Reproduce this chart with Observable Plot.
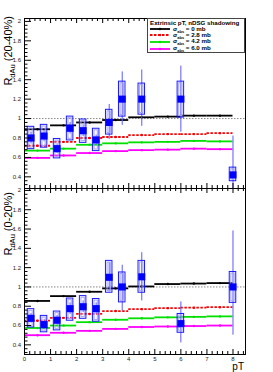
<!DOCTYPE html>
<html><head><meta charset="utf-8">
<script src="https://cdn.jsdelivr.net/npm/d3@7"></script>
<script src="https://cdn.jsdelivr.net/npm/@observablehq/plot@0.6"></script>
<style>
body{margin:0;background:#fff;}
#wrap{position:relative;width:273px;height:372px;font-family:"Liberation Sans",Arial,sans-serif;overflow:hidden;background:#fff;}
#wrap svg{position:absolute;left:0;}
.ytitle{position:absolute;left:2px;width:110px;text-align:right;font-size:11px;line-height:13px;white-space:nowrap;transform-origin:0 0;transform:rotate(-90deg);color:#000;}
.ytitle sub{font-size:7.5px;vertical-align:-2.5px;}
#xtitle{position:absolute;right:29px;top:362px;font-size:10px;line-height:9px;color:#000;}
#legend{position:absolute;left:147px;top:18px;width:98px;height:35px;box-sizing:border-box;border:1px solid #444;background:#fff;font-weight:bold;color:#000;}
#legend .lt{position:absolute;left:2px;top:0.8px;font-size:6.2px;line-height:6px;white-space:nowrap;}
#legend .le{position:absolute;left:2px;height:6px;line-height:6px;font-size:6.2px;white-space:nowrap;display:flex;align-items:center;}
#legend .le svg{position:static;margin-right:3px;}
#legend sub{font-size:4px;line-height:4px;vertical-align:-1.5px;}
</style></head>
<body>
<div id="wrap">
  <div id="ptop"></div>
  <div id="pbot"></div>
  <div class="ytitle" style="top:126px">R<sub>dAu</sub> (20-40%)</div>
  <div class="ytitle" style="top:302px">R<sub>dAu</sub> (0-20%)</div>
  <div id="xtitle">pT</div>
  <div id="legend"></div>
</div>
<script>
// ---- data ----
const pT = [0.25, 0.75, 1.25, 1.75, 2.25, 2.75, 3.25, 3.75, 4.5, 6, 8];

// 20-40% centrality
const val2040    = [0.80, 0.82, 0.69, 0.90, 0.875, 0.78, 0.96, 1.20, 1.20, 1.20, 0.42];
const statLo2040 = [0.74, 0.76, 0.64, 0.84, 0.815, 0.73, 0.785, 0.93, 0.92, 0.86, 0.02];
const statHi2040 = [0.86, 0.88, 0.74, 0.96, 0.935, 0.83, 1.145, 1.48, 1.50, 1.54, 0.82];
const sysLo2040  = [0.685, 0.70, 0.59, 0.775, 0.75, 0.665, 0.835, 1.02, 1.04, 1.01, 0.355];
const sysHi2040  = [0.915, 0.935, 0.79, 1.02, 0.99, 0.895, 1.09, 1.38, 1.36, 1.38, 0.495];

// 0-20% centrality
const val020    = [0.675, 0.61, 0.655, 0.775, 0.795, 0.775, 1.10, 1.00, 1.105, 0.62, 1.00];
const statLo020 = [0.625, 0.56, 0.605, 0.715, 0.735, 0.715, 0.95, 0.75, 0.855, 0.42, 0.50];
const statHi020 = [0.725, 0.66, 0.705, 0.835, 0.855, 0.835, 1.25, 1.225, 1.355, 0.845, 1.58];
const sysLo020  = [0.58, 0.53, 0.55, 0.65, 0.67, 0.64, 0.94, 0.84, 0.94, 0.525, 0.835];
const sysHi020  = [0.77, 0.70, 0.745, 0.88, 0.905, 0.875, 1.27, 1.15, 1.27, 0.72, 1.155];

// model bins (pT)
const binLo = [0, 1, 2, 3, 4, 5, 6, 7];
const binHi = [1, 2, 3, 4, 5, 6, 7, 8];

// model curves, 20-40%
const m0_2040  = [0.89, 0.93, 0.96, 0.985, 1.013, 1.02, 1.03, 1.03];
const m28_2040 = [0.72, 0.76, 0.80, 0.81, 0.83, 0.84, 0.84, 0.85];
const m42_2040 = [0.67, 0.69, 0.73, 0.745, 0.755, 0.76, 0.77, 0.765];
const m60_2040 = [0.595, 0.62, 0.645, 0.665, 0.675, 0.68, 0.69, 0.685];
// model curves, 0-20%
const m0_020  = [0.855, 0.905, 0.95, 0.985, 1.005, 1.03, 1.035, 1.04];
const m28_020 = [0.65, 0.68, 0.72, 0.75, 0.77, 0.78, 0.785, 0.79];
const m42_020 = [0.575, 0.60, 0.635, 0.66, 0.675, 0.685, 0.69, 0.695];
const m60_020 = [0.50, 0.525, 0.545, 0.565, 0.585, 0.59, 0.595, 0.60];

const sigmaLabels = ["0", "2.8", "4.2", "6.0"];
const legendTitle = "Extrinsic pT, nDSG shadowing";
const xTickLabels = [0, 1, 2, 3, 4, 5, 6, 7, 8];
const yTickLabels = [0.4, 0.6, 0.8, 1, 1.2, 1.4, 1.6, 1.8, 2];

// ---- styles ----
const modelColors = ["#000000", "#ff0000", "#00e000", "#ff00ff"];
const modelDash = [null, "2.5,1.5", null, null];
const xDomain = [0, 8.48];
const xMinor = d3.range(0, 43).map(i => +(i * 0.2).toFixed(2)).filter((v, i) => i % 5 !== 0 && v <= xDomain[1]);
const yMinorAll = d3.range(0, 60).map(i => +(i * 0.04).toFixed(2)).filter((v, i) => i % 5 !== 0);

function panel({val, statLo, statHi, sysLo, sysHi, models, yDomain, height, marginTop, marginBottom, showX}) {
  const pts = pT.map((x, i) => ({x, y: val[i], sLo: statLo[i], sHi: statHi[i], bLo: sysLo[i], bHi: sysHi[i]}));
  const modelMarks = [];
  models.forEach((m, k) => {
    const bins = binLo.map((lo, i) => ({lo, hi: binHi[i], y: m[i]}));
    modelMarks.push(Plot.ruleY(bins, {y: "y", x1: "lo", x2: "hi", stroke: modelColors[k], strokeWidth: 1.8, strokeDasharray: modelDash[k]}));
    modelMarks.push(Plot.dot(bins, {x: d => (d.lo + d.hi) / 2, y: "y", r: 1.2, fill: modelColors[k]}));
  });
  const yMinor = yMinorAll.filter(v => v >= yDomain[0] && v <= yDomain[1]);
  const yMajor = yTickLabels.filter(v => v >= yDomain[0] && v <= yDomain[1]);
  const [y0, y1] = yDomain;
  return Plot.plot({
    width: 273, height, marginLeft: 24, marginRight: 28, marginTop, marginBottom,
    style: {fontSize: "6px", fontFamily: "Liberation Sans, Arial, sans-serif", color: "#222", background: "transparent", overflow: "visible"},
    x: {domain: xDomain, axis: showX ? "bottom" : null, ticks: xTickLabels, tickSize: 0, tickPadding: 2.5, tickFormat: d => String(d), label: null},
    y: {domain: yDomain, ticks: yTickLabels, tickSize: 0, tickPadding: 3.5, tickFormat: d => String(d), label: null},
    marks: [
      Plot.ruleY([1], {stroke: "#888", strokeDasharray: "1.5,1.5"}),
      ...modelMarks,
      Plot.ruleX(pts, {x: "x", y1: "sLo", y2: "sHi", stroke: "#5a5aff", strokeWidth: 1, clip: true}),
      Plot.rect(pts, {x1: d => d.x - 0.125, x2: d => d.x + 0.125, y1: "bLo", y2: "bHi", fill: "none", stroke: "#1a1aff", strokeWidth: 1}),
      Plot.rect(pts, {x1: d => d.x - 0.125, x2: d => d.x + 0.125, y1: "bLo", y2: "bHi", fill: "none", stroke: "#a0a0ff", strokeWidth: 1, inset: 1.6}),
      Plot.dot(pts, {x: "x", y: "y", symbol: "square", r: 4, fill: "#0000ff"}),
      // inward ticks: left
      Plot.ruleY(yMajor, {y: d => d, x1: xDomain[0], x2: xDomain[0], insetRight: -7, stroke: "#000"}),
      Plot.ruleY(yMinor, {y: d => d, x1: xDomain[0], x2: xDomain[0], insetRight: -3.5, stroke: "#000"}),
      // bottom
      Plot.ruleX(xTickLabels, {x: d => d, y1: y0, y2: y0, insetTop: -5, stroke: "#000"}),
      Plot.ruleX(xMinor, {x: d => d, y1: y0, y2: y0, insetTop: -3, stroke: "#000"}),
      // top
      Plot.ruleX(xTickLabels, {x: d => d, y1: y1, y2: y1, insetBottom: -5, stroke: "#000"}),
      Plot.ruleX(xMinor, {x: d => d, y1: y1, y2: y1, insetBottom: -3, stroke: "#000"}),
      Plot.frame({stroke: "#000"})
    ]
  });
}

const topPanel = panel({val: val2040, statLo: statLo2040, statHi: statHi2040, sysLo: sysLo2040, sysHi: sysHi2040,
  models: [m0_2040, m28_2040, m42_2040, m60_2040], yDomain: [0.28, 2.03], height: 188, marginTop: 18, marginBottom: 0, showX: false});
topPanel.style.top = "0px";
document.getElementById("ptop").appendChild(topPanel);

const botPanel = panel({val: val020, statLo: statLo020, statHi: statHi020, sysLo: sysLo020, sysHi: sysHi020,
  models: [m0_020, m28_020, m42_020, m60_020], yDomain: [0.3, 2.02], height: 184, marginTop: 0, marginBottom: 18, showX: true});
botPanel.style.top = "188px";
document.getElementById("pbot").appendChild(botPanel);

// legend
const leg = document.getElementById("legend");
const lt = document.createElement("div");
lt.className = "lt"; lt.textContent = legendTitle; leg.appendChild(lt);
const entryTops = [7.3, 13.3, 20, 26.5];
sigmaLabels.forEach((s, k) => {
  const e = document.createElement("div");
  e.className = "le"; e.style.top = entryTops[k] + "px";
  const dash = modelDash[k] ? `stroke-dasharray="${modelDash[k]}"` : "";
  e.innerHTML = `<svg width="20" height="6"><line x1="0" x2="20" y1="3" y2="3" stroke="${modelColors[k]}" stroke-width="1.8" ${dash}/><circle cx="10" cy="3" r="1.2" fill="${modelColors[k]}"/></svg><span>&sigma;<sub>abs</sub> = ${s} mb</span>`;
  leg.appendChild(e);
});
</script>
</body></html>
